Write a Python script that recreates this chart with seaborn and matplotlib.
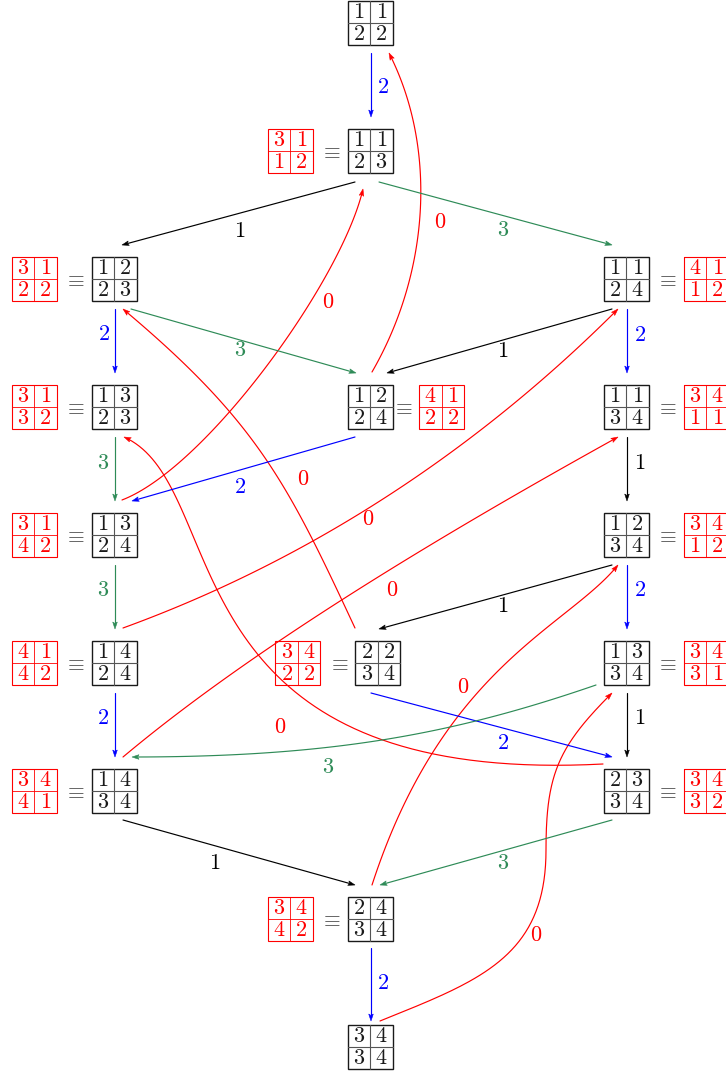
import numpy as np
import pandas as pd
import matplotlib
matplotlib.use("Agg")
import matplotlib.pyplot as plt
import seaborn as sns
from matplotlib.patches import Rectangle, Polygon

# ---------------- data ----------------
tableaux = ["11/22", "11/23", "12/23", "11/24", "12/24", "13/23", "11/34", "13/24",
            "12/34", "14/24", "22/34", "13/34", "14/34", "23/34", "24/34", "34/34"]
equiv = ["", "31/12", "31/22", "41/12", "41/22", "31/32", "34/11", "31/42",
         "34/12", "41/42", "34/22", "34/31", "34/41", "34/32", "34/42", ""]
equiv_side = ["", "L", "L", "R", "r", "L", "R", "L", "R", "L", "L", "R", "L", "R", "L", ""]
node_col = [1, 1, 0, 2, 1, 0, 2, 0, 2, 0, 1.03, 2, 0, 2, 1, 1]
node_row = [0, 1, 2, 2, 3, 3, 3, 4, 4, 5, 5, 5, 6, 6, 7, 8]

edge_src = [0, 1, 1, 4, 7, 2, 3, 2, 3, 4, 5, 6, 10, 9, 12, 7, 8, 8, 13, 9, 11, 10, 11, 14, 15, 12, 13, 14]
edge_dst = [1, 2, 3, 0, 1, 4, 4, 5, 6, 7, 7, 8, 2, 3, 6, 9, 10, 11, 5, 12, 12, 13, 13, 8, 11, 14, 14, 15]
edge_lab = [2, 1, 3, 0, 0, 3, 1, 2, 2, 2, 3, 1, 0, 0, 0, 3, 1, 2, 0, 2, 3, 2, 1, 0, 0, 1, 3, 2]

# ---------------- layout / style ----------------
W, H = 726, 1074
COL_X0, COL_DX = 114, 256
ROW_Y0, ROW_DY = 23, 128
CW, CH = 22.5, 22.0
FS = 16

label_colors = {0: "#FF0000", 1: "#000000", 2: "#0000FF", 3: "#2E8B57"}

start_off = [(1, 30), (-15, 31), (9, 31), (2, -35), (8, -35), (17, 30), (-14, 30), (1, 30),
             (1, 30), (-15, 30), (1, 30), (1, 30), (-23, -35), (9, -35), (9, -34), (1, 30),
             (-14, 30), (1, 30), (-23, -27), (1, 30), (-30, 22), (-7, 30), (1, 30), (2, -34),
             (10, -26), (9, 29), (-14, 29), (1, 29)]
end_off = [(1, -34), (8, -34), (-14, -34), (19, 30), (-7, 38), (-14, -34), (17, -34), (1, -34),
           (1, -34), (18, -34), (1, -34), (1, -34), (9, 30), (-8, 30), (-8, 30), (1, -34),
           (1, -34), (1, -34), (10, 30), (1, -34), (18, -34), (-14, -34), (1, -34), (-8, 30),
           (-14, 30), (-15, -34), (10, -34), (1, -26)]
# curve shapes: (out angle, out length, in angle, in length), angles in degrees (y up)
curves = {
    3: [(60, 116, -63, 106)],
    4: [(21, 91, -103, 93)],
    12: [(115, 160, -40, 175)],
    13: [(20, 200, -135, 199)],
    14: [(40, 180, -151, 179)],
    18: [(183, 444, -24, 120)],
    20: [(-161, 151, 0, 200)],
    23: [(72, 230, -129, 80)],
    24: [(22, 107, -90, 107), (90, 76, -135, 76)],
}
vias = {24: [(546, 850)]}
label_pos = [(383, 87), (240, 231), (503, 230), (440, 222), (328, 302), (240, 350), (503, 351),
             (104, 334), (640, 335), (240, 487), (103, 463), (640, 463), (303, 479), (368, 519),
             (392, 590), (103, 590), (503, 606), (640, 590), (280, 727), (103, 718), (328, 767),
             (503, 743), (640, 718), (463, 687), (536, 935), (215, 863), (503, 863), (383, 983)]

# ---------------- drawing ----------------
sns.set_theme(style="white")
plt.rcParams["mathtext.fontset"] = "cm"
fig = plt.figure(figsize=(W / 100, H / 100), dpi=100)
ax = fig.add_axes([0, 0, 1, 1])
ax.set_xlim(0, W)
ax.set_ylim(H, 0)
ax.axis("off")

node_xy = [(COL_X0 + COL_DX * c, ROW_Y0 + ROW_DY * r) for c, r in zip(node_col, node_row)]
node_xy[10] = (node_xy[10][0] + 0.3, node_xy[10][1])


def draw_tab(cx, cy, ent, color, lw_out=1.0, lw_in=0.7, tcolor=None, icolor=None):
    tcolor = tcolor or color
    icolor = icolor or color
    ax.add_patch(Rectangle((cx - CW, cy - CH), 2 * CW, 2 * CH, fill=False,
                           edgecolor=color, lw=lw_out, zorder=5))
    ax.plot([cx, cx], [cy - CH, cy + CH], color=icolor, lw=lw_in, zorder=5)
    ax.plot([cx - CW, cx + CW], [cy, cy], color=icolor, lw=lw_in, zorder=5)
    top, bot = ent.split("/")
    for j, ch in enumerate(top):
        ax.text(cx + (j - 0.5) * CW, cy - CH / 2 + 0.5, f"${ch}$", ha="center", va="center",
                fontsize=FS, color=tcolor, zorder=6)
    for j, ch in enumerate(bot):
        ax.text(cx + (j - 0.5) * CW, cy + CH / 2 + 0.5, f"${ch}$", ha="center", va="center",
                fontsize=FS, color=tcolor, zorder=6)


for i, (cx, cy) in enumerate(node_xy):
    draw_tab(cx, cy, tableaux[i], "#1a1a1a", lw_out=1.0, lw_in=0.8,
             tcolor="#1a1a1a", icolor="#555555")
    side = equiv_side[i]
    if side:
        if side == "L":
            ex, rx = cx - 39, cx - 80
        elif side == "R":
            ex, rx = cx + 41, cx + 80
        else:
            ex, rx = cx + 33, cx + 71.5
        ax.text(ex, cy + 1, r"$\equiv$", ha="center", va="center", fontsize=15.5,
                color="#555555", zorder=6)
        draw_tab(rx, cy, equiv[i], "#FF0000", lw_out=0.8, lw_in=0.6)


def bez(p0, p1, p2, p3, n=80):
    t = np.linspace(0, 1, n)[:, None]
    return ((1 - t) ** 3) * p0 + 3 * ((1 - t) ** 2) * t * p1 + 3 * (1 - t) * t ** 2 * p2 + t ** 3 * p3


def dvec(a, l):
    r = np.deg2rad(a)
    return np.array([np.cos(r), -np.sin(r)]) * l


rows = []
heads = []
for k in range(len(edge_src)):
    s, d = edge_src[k], edge_dst[k]
    p0 = np.array(node_xy[s], float) + np.array(start_off[k], float)
    p3 = np.array(node_xy[d], float) + np.array(end_off[k], float)
    if k in curves:
        knots = [p0] + [np.array(v, float) for v in vias.get(k, [])] + [p3]
        segs = []
        for j, (ao, lo, ai, li) in enumerate(curves[k]):
            a, b = knots[j], knots[j + 1]
            segs.append(bez(a, a + dvec(ao, lo), b + dvec(ai, li), b))
        pts = np.vstack(segs)
        last_dir = p3 - (knots[-1] + dvec(curves[k][-1][2], curves[k][-1][3]))
    else:
        pts = np.vstack([p0, p3])
        last_dir = p3 - p0
    u = last_dir / np.linalg.norm(last_dir)
    base = p3 - u * 6
    pts = np.vstack([pts[:-1], base])
    for x, y in pts:
        rows.append({"x": x, "y": y, "edge": k, "lab": edge_lab[k]})
    nrm = np.array([-u[1], u[0]])
    heads.append((np.array([p3, p3 - u * 7 + nrm * 2.3, p3 - u * 5.5, p3 - u * 7 - nrm * 2.3]),
                  label_colors[edge_lab[k]]))

df = pd.DataFrame(rows)
sns.lineplot(data=df, x="x", y="y", units="edge", hue="lab", palette=label_colors,
             estimator=None, sort=False, linewidth=0.85, legend=False, ax=ax)
ax.set_xlim(0, W)
ax.set_ylim(H, 0)
ax.axis("off")
for poly, c in heads:
    ax.add_patch(Polygon(poly, closed=True, facecolor=c, edgecolor=c, lw=0.4, zorder=4))

for k, (lx, ly) in enumerate(label_pos):
    ax.text(lx, ly, f"${edge_lab[k]}$", ha="center", va="center", fontsize=FS,
            color=label_colors[edge_lab[k]], zorder=6)

fig.savefig("out.png", dpi=100, facecolor="white")
